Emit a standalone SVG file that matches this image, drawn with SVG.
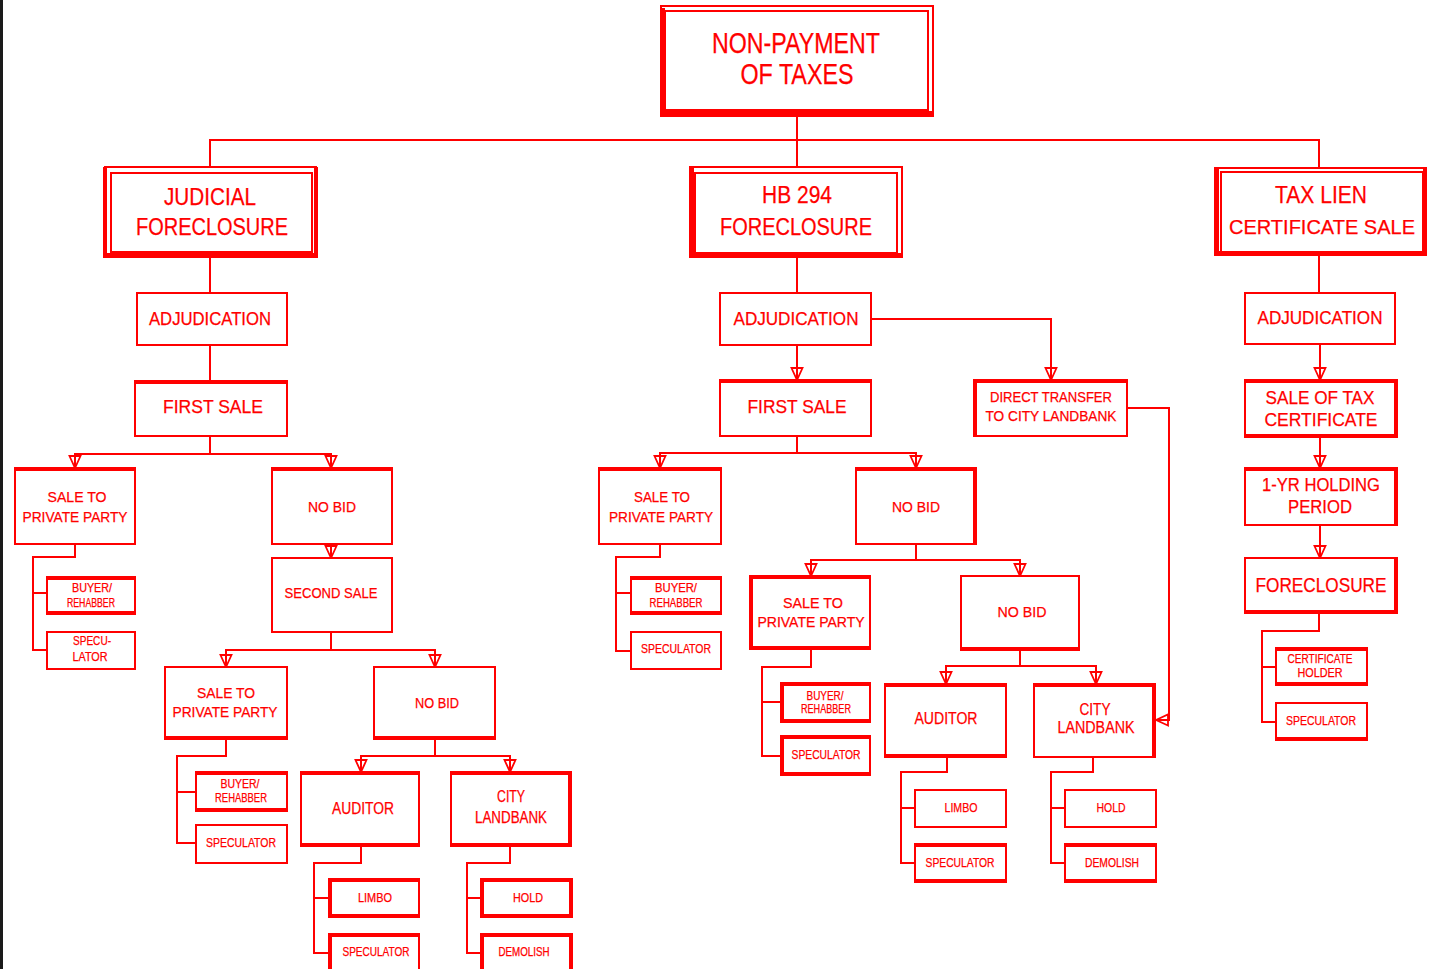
<svg xmlns="http://www.w3.org/2000/svg" width="1433" height="969" viewBox="0 0 1433 969">
<style>
  .b{fill:#fff;stroke:#f00;stroke-width:2}
  .t{fill:none;stroke:#f00;stroke-width:4}
  .c{fill:none;stroke:#f00;stroke-width:2}
  text{font-family:"Liberation Sans",Arial,sans-serif;fill:#f00;text-anchor:middle;stroke:#f00;stroke-width:0.25}
  .f29{font-size:29px}.f23{font-size:23px}.f21{font-size:21px}.f20{font-size:20px}.f19{font-size:19px}.f18{font-size:18px}
  .f16{font-size:16px}.f15{font-size:15px}.f14{font-size:14px}.f12{font-size:12px}
</style>
<defs>
  <marker id="ah" viewBox="0 0 14 14" refX="13" refY="7" markerWidth="14" markerHeight="14" markerUnits="userSpaceOnUse" orient="auto">
    <path d="M1,1.5 L13,7 L1,12.5 Z M1,7 H13" fill="none" stroke="#f00" stroke-width="1.8"/>
  </marker>
</defs>
<rect width="1433" height="969" fill="#fff"/>
<rect x="0" y="0" width="3" height="969" fill="#1a1a1a"/>

<g id="connectors">
  <path class="c" d="M797,116 V140 M210,168 V140 H1319 V168 M797,140 V168"/>
  <path class="c" d="M210,257 V293 M797,257 V293 M1319,255 V293"/>
  <path class="c" d="M210,345 V381"/>
  <path class="c" d="M797,345 V380" marker-end="url(#ah)"/>
  <path class="c" d="M871,319 H1051 V380" marker-end="url(#ah)"/>
  <path class="c" d="M1127,408 H1169 V720 H1156" marker-end="url(#ah)"/>
  <path class="c" d="M1320,344 V380" marker-end="url(#ah)"/>
  <path class="c" d="M1320,437 V468" marker-end="url(#ah)"/>
  <path class="c" d="M1320,525 V558" marker-end="url(#ah)"/>
  <path class="c" d="M1319,613 V631 H1262 V722 H1276 M1262,667 H1276"/>
  <!-- judicial branch -->
  <path class="c" d="M210,436 V454"/>
  <path class="c" d="M210,454 H75 V468" marker-end="url(#ah)"/>
  <path class="c" d="M210,454 H331 V468" marker-end="url(#ah)"/>
  <path class="c" d="M75,544 V557 H33 V650 H47 M33,593 H47"/>
  <path class="c" d="M331,544 V558" marker-end="url(#ah)"/>
  <path class="c" d="M331,632 V650"/>
  <path class="c" d="M331,650 H226 V667" marker-end="url(#ah)"/>
  <path class="c" d="M331,650 H435 V667" marker-end="url(#ah)"/>
  <path class="c" d="M226,739 V756 H177 V843 H196 M177,792 H196"/>
  <path class="c" d="M435,739 V756"/>
  <path class="c" d="M435,756 H361 V772" marker-end="url(#ah)"/>
  <path class="c" d="M435,756 H510 V772" marker-end="url(#ah)"/>
  <path class="c" d="M361,846 V863 H314 V953 H329 M314,898 H329"/>
  <path class="c" d="M510,846 V863 H467 V953 H481 M467,898 H481"/>
  <!-- hb 294 branch -->
  <path class="c" d="M797,436 V453"/>
  <path class="c" d="M797,453 H660 V468" marker-end="url(#ah)"/>
  <path class="c" d="M797,453 H916 V468" marker-end="url(#ah)"/>
  <path class="c" d="M660,544 V557 H616 V651 H631 M616,593 H631"/>
  <path class="c" d="M916,544 V560"/>
  <path class="c" d="M916,560 H811 V576" marker-end="url(#ah)"/>
  <path class="c" d="M916,560 H1020 V576" marker-end="url(#ah)"/>
  <path class="c" d="M811,649 V667 H762 V756 H781 M762,702 H781"/>
  <path class="c" d="M1020,650 V666"/>
  <path class="c" d="M1020,666 H946 V684" marker-end="url(#ah)"/>
  <path class="c" d="M1020,666 H1096 V684" marker-end="url(#ah)"/>
  <path class="c" d="M947,757 V772 H901 V863 H915 M901,808 H915"/>
  <path class="c" d="M1093,757 V772 H1051 V863 H1065 M1051,808 H1065"/>
</g>

<g id="n-top">
  <rect class="b" x="661" y="6" width="272" height="110"/>
  <rect class="b" x="665" y="11" width="263" height="99"/>
  <path class="t" d="M661,113 H933 M663,8 V116"/>
  <text class="f29" x="796" y="53" textLength="168" lengthAdjust="spacingAndGlyphs">NON-PAYMENT</text>
  <text class="f29" x="797" y="84" textLength="113" lengthAdjust="spacingAndGlyphs">OF TAXES</text>
</g>

<g id="n-judicial">
  <rect class="b" x="105" y="167" width="211" height="90"/>
  <rect class="b" x="111" y="173" width="201" height="79"/>
  <path class="t" d="M105,167 V258 M316,167 V258 M105,255 H316"/>
  <text class="f23" x="210" y="205" textLength="92" lengthAdjust="spacingAndGlyphs">JUDICIAL</text>
  <text class="f23" x="212" y="235" textLength="152" lengthAdjust="spacingAndGlyphs">FORECLOSURE</text>
</g>

<g id="n-hb294">
  <rect class="b" x="690" y="167" width="212" height="90"/>
  <rect class="b" x="695" y="173" width="202" height="80"/>
  <path class="t" d="M692,167 V258 M690,255 H902"/>
  <text class="f23" x="797" y="203" textLength="70" lengthAdjust="spacingAndGlyphs">HB 294</text>
  <text class="f23" x="796" y="235" textLength="152" lengthAdjust="spacingAndGlyphs">FORECLOSURE</text>
</g>

<g id="n-taxlien">
  <rect class="b" x="1215" y="168" width="211" height="87"/>
  <rect class="b" x="1221" y="172" width="202" height="80"/>
  <path class="t" d="M1217,168 V256 M1425,168 V256 M1215,253 H1426"/>
  <text class="f23" x="1321" y="203" textLength="92" lengthAdjust="spacingAndGlyphs">TAX LIEN</text>
  <text class="f21" x="1322" y="234" textLength="186" lengthAdjust="spacingAndGlyphs">CERTIFICATE SALE</text>
</g>

<g id="n-adj-j">
  <rect class="b" x="137" y="293" width="150" height="52"/>
  <text class="f18" x="210" y="325" textLength="122" lengthAdjust="spacingAndGlyphs">ADJUDICATION</text>
</g>
<g id="n-first-j">
  <rect class="b" x="135" y="381" width="152" height="55"/>
  <path class="t" d="M135,382 H287"/>
  <text class="f18" x="213" y="413" textLength="100" lengthAdjust="spacingAndGlyphs">FIRST SALE</text>
</g>
<g id="n-adj-h">
  <rect class="b" x="720" y="293" width="151" height="52"/>
  <text class="f18" x="796" y="325" textLength="125" lengthAdjust="spacingAndGlyphs">ADJUDICATION</text>
</g>
<g id="n-first-h">
  <rect class="b" x="720" y="380" width="151" height="56"/>
  <path class="t" d="M720,381 H871"/>
  <text class="f18" x="797" y="413" textLength="99" lengthAdjust="spacingAndGlyphs">FIRST SALE</text>
</g>
<g id="n-direct">
  <rect class="b" x="974" y="380" width="153" height="56"/>
  <path class="t" d="M974,381 H1127 M975,380 V436"/>
  <text class="f14" x="1051" y="402" textLength="122" lengthAdjust="spacingAndGlyphs">DIRECT TRANSFER</text>
  <text class="f14" x="1051" y="421" textLength="131" lengthAdjust="spacingAndGlyphs">TO CITY LANDBANK</text>
</g>
<g id="n-adj-t">
  <rect class="b" x="1245" y="293" width="150" height="51"/>
  <text class="f18" x="1320" y="324" textLength="125" lengthAdjust="spacingAndGlyphs">ADJUDICATION</text>
</g>
<g id="n-saletax">
  <rect class="b" x="1245" y="380" width="152" height="57"/>
  <path class="t" d="M1245,381 H1397 M1396,380 V437 M1245,436 H1397"/>
  <text class="f19" x="1320" y="404" textLength="109" lengthAdjust="spacingAndGlyphs">SALE OF TAX</text>
  <text class="f19" x="1321" y="426" textLength="113" lengthAdjust="spacingAndGlyphs">CERTIFICATE</text>
</g>
<g id="n-holding">
  <rect class="b" x="1245" y="468" width="152" height="57"/>
  <path class="t" d="M1245,469 H1397 M1396,468 V525"/>
  <text class="f19" x="1321" y="491" textLength="118" lengthAdjust="spacingAndGlyphs">1-YR HOLDING</text>
  <text class="f19" x="1320" y="513" textLength="64" lengthAdjust="spacingAndGlyphs">PERIOD</text>
</g>
<g id="n-foreclosure-t">
  <rect class="b" x="1245" y="558" width="152" height="55"/>
  <path class="t" d="M1396,558 V614 M1245,612 H1397"/>
  <text class="f20" x="1321" y="592" textLength="131" lengthAdjust="spacingAndGlyphs">FORECLOSURE</text>
</g>
<g id="n-certholder">
  <rect class="b" x="1276" y="648" width="91" height="37"/>
  <path class="t" d="M1276,649 H1367 M1276,684 H1367"/>
  <text class="f12" x="1320" y="663" textLength="65" lengthAdjust="spacingAndGlyphs">CERTIFICATE</text>
  <text class="f12" x="1320" y="677" textLength="45" lengthAdjust="spacingAndGlyphs">HOLDER</text>
</g>
<g id="n-spec-t">
  <rect class="b" x="1276" y="703" width="91" height="37"/>
  <path class="t" d="M1276,739 H1367"/>
  <text class="f12" x="1321" y="725" textLength="70" lengthAdjust="spacingAndGlyphs">SPECULATOR</text>
</g>

<!-- judicial foreclosure subtree -->
<g id="n-sale-j1">
  <rect class="b" x="15" y="468" width="120" height="76"/>
  <path class="t" d="M15,469 H135"/>
  <text class="f15" x="77" y="502" textLength="59" lengthAdjust="spacingAndGlyphs">SALE TO</text>
  <text class="f15" x="75" y="522" textLength="105" lengthAdjust="spacingAndGlyphs">PRIVATE PARTY</text>
</g>
<g id="n-nobid-j1">
  <rect class="b" x="272" y="468" width="120" height="76"/>
  <path class="t" d="M272,469 H392"/>
  <text class="f15" x="332" y="512" textLength="48" lengthAdjust="spacingAndGlyphs">NO BID</text>
</g>
<g id="n-buyer-j1">
  <rect class="b" x="47" y="577" width="88" height="37"/>
  <path class="t" d="M47,578 H135 M47,613 H135"/>
  <text class="f12" x="92" y="592" textLength="40" lengthAdjust="spacingAndGlyphs">BUYER/</text>
  <text class="f12" x="91" y="607" textLength="48" lengthAdjust="spacingAndGlyphs">REHABBER</text>
</g>
<g id="n-spec-j1">
  <rect class="b" x="47" y="632" width="88" height="37"/>
  <text class="f12" x="92" y="645" textLength="38" lengthAdjust="spacingAndGlyphs">SPECU-</text>
  <text class="f12" x="90" y="661" textLength="35" lengthAdjust="spacingAndGlyphs">LATOR</text>
</g>
<g id="n-second-j">
  <rect class="b" x="272" y="558" width="120" height="74"/>
  <text class="f15" x="331" y="598" textLength="93" lengthAdjust="spacingAndGlyphs">SECOND SALE</text>
</g>
<g id="n-sale-j2">
  <rect class="b" x="165" y="667" width="122" height="72"/>
  <path class="t" d="M165,738 H287"/>
  <text class="f15" x="226" y="698" textLength="58" lengthAdjust="spacingAndGlyphs">SALE TO</text>
  <text class="f15" x="225" y="717" textLength="105" lengthAdjust="spacingAndGlyphs">PRIVATE PARTY</text>
</g>
<g id="n-nobid-j2">
  <rect class="b" x="374" y="667" width="121" height="72"/>
  <path class="t" d="M374,738 H495"/>
  <text class="f15" x="437" y="708" textLength="44" lengthAdjust="spacingAndGlyphs">NO BID</text>
</g>
<g id="n-buyer-j2">
  <rect class="b" x="196" y="772" width="91" height="39"/>
  <path class="t" d="M196,773 H287 M196,810 H287"/>
  <text class="f12" x="240" y="788" textLength="39" lengthAdjust="spacingAndGlyphs">BUYER/</text>
  <text class="f12" x="241" y="802" textLength="52" lengthAdjust="spacingAndGlyphs">REHABBER</text>
</g>
<g id="n-spec-j2">
  <rect class="b" x="196" y="825" width="91" height="38"/>
  <text class="f12" x="241" y="847" textLength="70" lengthAdjust="spacingAndGlyphs">SPECULATOR</text>
</g>
<g id="n-aud-j">
  <rect class="b" x="301" y="772" width="118" height="74"/>
  <path class="t" d="M301,773 H419 M301,845 H419"/>
  <text class="f16" x="363" y="814" textLength="62" lengthAdjust="spacingAndGlyphs">AUDITOR</text>
</g>
<g id="n-city-j">
  <rect class="b" x="451" y="772" width="120" height="74"/>
  <path class="t" d="M451,773 H571 M570,772 V846 M451,845 H571"/>
  <text class="f16" x="511" y="802" textLength="28" lengthAdjust="spacingAndGlyphs">CITY</text>
  <text class="f16" x="511" y="823" textLength="72" lengthAdjust="spacingAndGlyphs">LANDBANK</text>
</g>
<g id="n-limbo-j">
  <rect class="b" x="329" y="879" width="90" height="38"/>
  <path class="t" d="M329,880 H419 M330,879 V917 M329,916 H419"/>
  <text class="f12" x="375" y="902" textLength="34" lengthAdjust="spacingAndGlyphs">LIMBO</text>
</g>
<g id="n-spec-j3">
  <rect class="b" x="329" y="934" width="90" height="40"/>
  <path class="t" d="M329,935 H419 M330,934 V969"/>
  <text class="f12" x="376" y="956" textLength="67" lengthAdjust="spacingAndGlyphs">SPECULATOR</text>
</g>
<g id="n-hold-j">
  <rect class="b" x="481" y="879" width="91" height="38"/>
  <path class="t" d="M481,880 H572 M482,879 V917 M571,879 V917 M481,916 H572"/>
  <text class="f12" x="528" y="902" textLength="30" lengthAdjust="spacingAndGlyphs">HOLD</text>
</g>
<g id="n-demo-j">
  <rect class="b" x="481" y="934" width="91" height="40"/>
  <path class="t" d="M481,935 H572 M482,934 V969 M571,934 V969"/>
  <text class="f12" x="524" y="956" textLength="51" lengthAdjust="spacingAndGlyphs">DEMOLISH</text>
</g>

<!-- hb 294 subtree -->
<g id="n-sale-h1">
  <rect class="b" x="599" y="468" width="122" height="76"/>
  <path class="t" d="M599,469 H721"/>
  <text class="f15" x="662" y="502" textLength="56" lengthAdjust="spacingAndGlyphs">SALE TO</text>
  <text class="f15" x="661" y="522" textLength="104" lengthAdjust="spacingAndGlyphs">PRIVATE PARTY</text>
</g>
<g id="n-nobid-h1">
  <rect class="b" x="856" y="468" width="120" height="76"/>
  <path class="t" d="M856,469 H976 M975,468 V544"/>
  <text class="f15" x="916" y="512" textLength="48" lengthAdjust="spacingAndGlyphs">NO BID</text>
</g>
<g id="n-buyer-h1">
  <rect class="b" x="631" y="577" width="90" height="37"/>
  <path class="t" d="M631,578 H721 M631,613 H721"/>
  <text class="f12" x="676" y="592" textLength="42" lengthAdjust="spacingAndGlyphs">BUYER/</text>
  <text class="f12" x="676" y="607" textLength="53" lengthAdjust="spacingAndGlyphs">REHABBER</text>
</g>
<g id="n-spec-h1">
  <rect class="b" x="631" y="632" width="90" height="37"/>
  <text class="f12" x="676" y="653" textLength="70" lengthAdjust="spacingAndGlyphs">SPECULATOR</text>
</g>
<g id="n-sale-h2">
  <rect class="b" x="750" y="576" width="120" height="73"/>
  <path class="t" d="M750,577 H870 M751,576 V649 M750,648 H870"/>
  <text class="f15" x="813" y="608" textLength="60" lengthAdjust="spacingAndGlyphs">SALE TO</text>
  <text class="f15" x="811" y="627" textLength="107" lengthAdjust="spacingAndGlyphs">PRIVATE PARTY</text>
</g>
<g id="n-nobid-h2">
  <rect class="b" x="961" y="576" width="118" height="74"/>
  <path class="t" d="M961,649 H1079"/>
  <text class="f15" x="1022" y="617" textLength="49" lengthAdjust="spacingAndGlyphs">NO BID</text>
</g>
<g id="n-buyer-h2">
  <rect class="b" x="781" y="683" width="89" height="39"/>
  <path class="t" d="M781,684 H870 M782,683 V722 M781,721 H870"/>
  <text class="f12" x="825" y="700" textLength="37" lengthAdjust="spacingAndGlyphs">BUYER/</text>
  <text class="f12" x="826" y="713" textLength="50" lengthAdjust="spacingAndGlyphs">REHABBER</text>
</g>
<g id="n-spec-h2">
  <rect class="b" x="781" y="736" width="89" height="39"/>
  <path class="t" d="M781,737 H870 M782,736 V775 M781,774 H870"/>
  <text class="f12" x="826" y="759" textLength="69" lengthAdjust="spacingAndGlyphs">SPECULATOR</text>
</g>
<g id="n-aud-h">
  <rect class="b" x="885" y="684" width="121" height="73"/>
  <path class="t" d="M885,685 H1006 M885,756 H1006"/>
  <text class="f16" x="946" y="724" textLength="63" lengthAdjust="spacingAndGlyphs">AUDITOR</text>
</g>
<g id="n-city-h">
  <rect class="b" x="1034" y="684" width="121" height="73"/>
  <path class="t" d="M1034,685 H1155 M1154,684 V757"/>
  <text class="f16" x="1095" y="715" textLength="31" lengthAdjust="spacingAndGlyphs">CITY</text>
  <text class="f16" x="1096" y="733" textLength="77" lengthAdjust="spacingAndGlyphs">LANDBANK</text>
</g>
<g id="n-limbo-h">
  <rect class="b" x="915" y="790" width="91" height="37"/>
  <text class="f12" x="961" y="812" textLength="33" lengthAdjust="spacingAndGlyphs">LIMBO</text>
</g>
<g id="n-spec-h3">
  <rect class="b" x="915" y="844" width="91" height="38"/>
  <path class="t" d="M915,845 H1006 M915,881 H1006"/>
  <text class="f12" x="960" y="867" textLength="69" lengthAdjust="spacingAndGlyphs">SPECULATOR</text>
</g>
<g id="n-hold-h">
  <rect class="b" x="1065" y="790" width="91" height="37"/>
  <text class="f12" x="1111" y="812" textLength="29" lengthAdjust="spacingAndGlyphs">HOLD</text>
</g>
<g id="n-demo-h">
  <rect class="b" x="1065" y="844" width="91" height="38"/>
  <path class="t" d="M1065,845 H1156 M1065,881 H1156"/>
  <text class="f12" x="1112" y="867" textLength="54" lengthAdjust="spacingAndGlyphs">DEMOLISH</text>
</g>
</svg>
